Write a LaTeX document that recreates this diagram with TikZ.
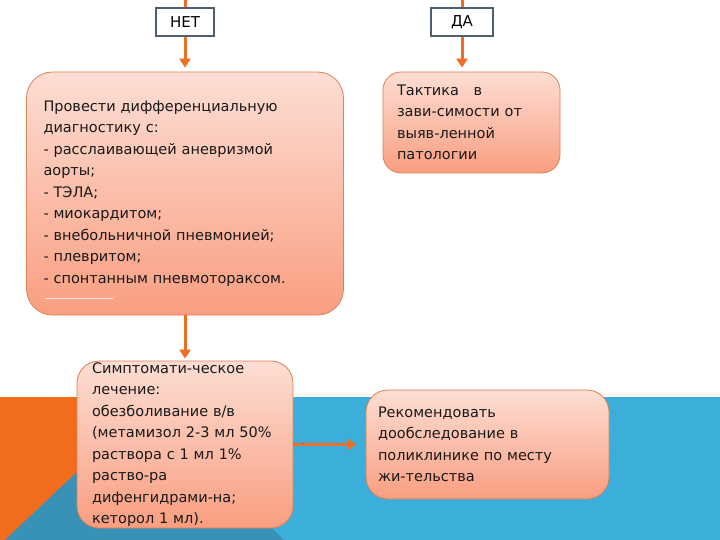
\documentclass[tikz,border=0pt]{standalone}
\usepackage{fontspec}
\setmainfont{DejaVu Sans}
\usepackage{xcolor}
\usetikzlibrary{arrows.meta, positioning, calc}

\definecolor{slideorange}{RGB}{242,108,30}
\definecolor{slideblue}{RGB}{59,175,218}
\definecolor{slidedeep}{RGB}{55,146,182}
\definecolor{boxtop}{RGB}{253,222,212}
\definecolor{boxbot}{RGB}{249,158,128}
\definecolor{boxline}{RGB}{222,128,88}
\definecolor{tagline}{RGB}{80,95,110}
\definecolor{floworange}{RGB}{240,110,35}

\tikzset{
  stepnote/.style={top color=boxtop, bottom color=boxbot, draw=boxline, line width=0.8pt,
    align=left, inner ysep=0pt, text=black!90, font=\fontsize{14.5}{21.5}\selectfont},
  answer/.style={draw=tagline, line width=1.6pt, fill=white, minimum height=28pt,
    inner sep=0pt, font=\fontsize{15}{18}\selectfont},
  flow/.style={draw=floworange, line width=3pt, -{Triangle[width=11pt,length=9pt]}}
}

\begin{document}
\begin{tikzpicture}[x=1pt, y=-1pt]
    \useasboundingbox (0,0) rectangle (720,540);
    \fill[white] (0,0) rectangle (720,540);

    % Slide background
    \fill[slideorange] (0,397) rectangle (80,540);
    \fill[slideblue] (80,397) rectangle (720,540);
    \fill[slidedeep] (5,540) -- (77,472) -- (272,472) -- (272,528) -- (284,540) -- cycle;
    \draw[orange!10, line width=1pt] (77,394) -- (720,394);

    % Answers
    \node[answer, minimum width=58pt] (no) at (185,22) {НЕТ};
    \node[answer, minimum width=62pt] (yes) at (462,22) {ДА};
    \coordinate (topno) at (185,0);
    \coordinate (topyes) at (462,0);

    % Boxes
    \node[stepnote, rounded corners=26pt, minimum width=317pt, minimum height=243pt,
          inner xsep=17pt, text width=283pt] (diff) at (185,193.5) {
        Провести дифференциальную\\
        диагностику с:\\
        - расслаивающей аневризмой\\
        аорты;\\
        - ТЭЛА;\\
        - миокардитом;\\
        - внебольничной пневмонией;\\
        - плевритом;\\
        - спонтанным пневмотораксом.
    };
    \draw[white, opacity=0.7, line width=0.8pt] (45,298) -- (113,298);

    \node[stepnote, rounded corners=18pt, minimum width=177pt, minimum height=101pt,
          inner xsep=14pt, text width=149pt] (tact) at (471.5,122.5) {
        Тактика\quad в\\
        зави-симости от\\
        выяв-ленной\\
        патологии
    };

    \node[stepnote, rounded corners=22pt, minimum width=216pt, minimum height=167pt,
          inner xsep=15pt, text width=186pt] (sympt) at (185,444.5) {
        Симптомати-ческое\\
        лечение:\\
        обезболивание в/в\\
        (метамизол 2-3 мл 50\%\\
        раствора с 1 мл 1\%\\
        раство-ра\\
        дифенгидрами-на;\\
        кеторол 1 мл).
    };

    \node[stepnote, rounded corners=22pt, minimum width=243pt, minimum height=109pt,
          inner xsep=12pt, text width=219pt] (rec) at (487.5,444.5) {
        Рекомендовать\\
        дообследование в\\
        поликлинике по месту\\
        жи-тельства
    };

    % Connectors
    \draw[draw=floworange, line width=3pt] (topno) -- (no.north);
    \draw[draw=floworange, line width=3pt] (topyes) -- (yes.north);
    \draw[flow, shorten >=4pt] (no.south) -- (no.south |- diff.north);
    \draw[flow, shorten >=4pt] (yes.south) -- (yes.south |- tact.north);
    \draw[flow, shorten >=2pt] (diff.south) -- (sympt.north);
    \draw[flow, shorten >=9pt] (sympt.east) -- (rec.west);

\end{tikzpicture}
\end{document}
